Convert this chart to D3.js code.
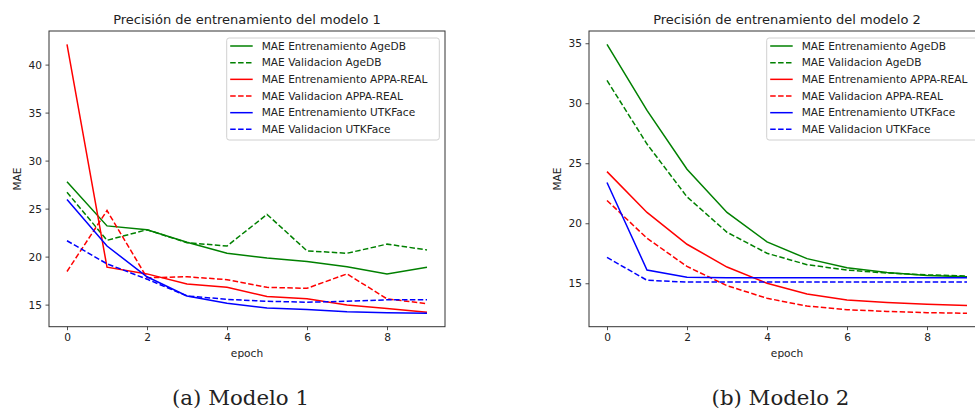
<!DOCTYPE html>
<html>
<head>
<meta charset="utf-8">
<script src="https://cdn.jsdelivr.net/npm/d3@7"></script>
<style>
  body { margin: 0; background: #fff; }
  svg { display: block; }
  text { font-family: "DejaVu Sans", sans-serif; fill: #222; }
</style>
</head>
<body>
<div id="chart"></div>
<script>
const width = 975
const height = 409

const epochs = [0, 1, 2, 3, 4, 5, 6, 7, 8, 9]

const seriesLabels = [
  "MAE Entrenamiento AgeDB",
  "MAE Validacion AgeDB",
  "MAE Entrenamiento APPA-REAL",
  "MAE Validacion APPA-REAL",
  "MAE Entrenamiento UTKFace",
  "MAE Validacion UTKFace"
]
const seriesColors = ["#008000", "#008000", "#ff0000", "#ff0000", "#0000ff", "#0000ff"]
const seriesDashed = [false, true, false, true, false, true]

// modelo 1
const m1TrainAgeDB = [27.8, 23.2, 22.8, 21.5, 20.35, 19.85, 19.5, 18.95, 18.2, 18.9]
const m1ValAgeDB   = [26.7, 21.7, 22.8, 21.45, 21.1, 24.4, 20.6, 20.35, 21.3, 20.7]
const m1TrainAppa  = [42.1, 18.9, 18.2, 17.15, 16.8, 15.85, 15.6, 14.95, 14.6, 14.2]
const m1ValAppa    = [18.45, 24.8, 17.8, 17.9, 17.6, 16.8, 16.7, 18.2, 15.6, 15.1]
const m1TrainUtk   = [25.95, 21.1, 17.9, 15.9, 15.15, 14.65, 14.5, 14.25, 14.15, 14.1]
const m1ValUtk     = [21.65, 19.25, 17.65, 15.9, 15.55, 15.35, 15.25, 15.35, 15.5, 15.5]

// modelo 2
const m2TrainAgeDB = [34.9, 29.4, 24.5, 20.9, 18.45, 17.05, 16.3, 15.9, 15.65, 15.55]
const m2ValAgeDB   = [31.9, 26.6, 22.2, 19.25, 17.5, 16.55, 16.1, 15.85, 15.7, 15.6]
const m2TrainAppa  = [24.3, 20.9, 18.25, 16.35, 15.0, 14.1, 13.6, 13.4, 13.25, 13.15]
const m2ValAppa    = [21.9, 18.75, 16.4, 14.8, 13.75, 13.1, 12.8, 12.65, 12.55, 12.5]
const m2TrainUtk   = [23.4, 16.1, 15.5, 15.45, 15.45, 15.45, 15.45, 15.45, 15.45, 15.45]
const m2ValUtk     = [17.15, 15.25, 15.1, 15.1, 15.1, 15.1, 15.1, 15.1, 15.1, 15.1]

const panels = [
  {
    title: "Precisión de entrenamiento del modelo 1",
    caption: "(a) Modelo 1",
    captionX: 240.5,
    left: 49, right: 445,
    series: [m1TrainAgeDB, m1ValAgeDB, m1TrainAppa, m1ValAppa, m1TrainUtk, m1ValUtk]
  },
  {
    title: "Precisión de entrenamiento del modelo 2",
    caption: "(b) Modelo 2",
    captionX: 780.5,
    left: 589, right: 985,
    series: [m2TrainAgeDB, m2ValAgeDB, m2TrainAppa, m2ValAppa, m2TrainUtk, m2ValUtk]
  }
]

const plotTop = 31
const plotBottom = 326.7
const smallFont = "10.6px"

const svg = d3.select("#chart")
  .append("svg")
  .attr("width", width)
  .attr("height", height)

svg.append("rect").attr("width", width).attr("height", height).attr("fill", "#fff")

function drawPanel(p) {
  const g = svg.append("g")

  // matplotlib style 5% margins
  const xScale = d3.scaleLinear().domain([-0.45, 9.45]).range([p.left, p.right])
  const all = p.series.flat()
  const [lo, hi] = d3.extent(all)
  const pad = (hi - lo) * 0.05
  const yScale = d3.scaleLinear().domain([lo - pad, hi + pad]).range([plotBottom, plotTop])

  const xAxis = d3.axisBottom(xScale).tickValues([0, 2, 4, 6, 8]).tickSize(3.5).tickPadding(3.5)
  const yTicks = d3.range(15, hi + pad, 5)
  const yAxis = d3.axisLeft(yScale).tickValues(yTicks).tickSize(3.5).tickPadding(3.5)

  const gx = g.append("g").attr("transform", `translate(0,${plotBottom})`).call(xAxis)
  const gy = g.append("g").attr("transform", `translate(${p.left},0)`).call(yAxis)
  ;[gx, gy].forEach(a => {
    a.select(".domain").remove()
    a.selectAll(".tick line").attr("stroke", "#222").attr("stroke-width", 0.8)
    a.selectAll(".tick text").style("font-family", "DejaVu Sans").style("font-size", smallFont).attr("fill", "#222")
  })

  const line = d3.line().x((d, i) => xScale(epochs[i])).y(d => yScale(d))

  p.series.forEach((s, i) => {
    g.append("path")
      .datum(s)
      .attr("d", line)
      .attr("fill", "none")
      .attr("stroke", seriesColors[i])
      .attr("stroke-width", 1.5)
      .attr("stroke-dasharray", seriesDashed[i] ? "5.5,2.4" : null)
  })

  // frame
  g.append("rect")
    .attr("x", p.left).attr("y", plotTop)
    .attr("width", p.right - p.left).attr("height", plotBottom - plotTop)
    .attr("fill", "none").attr("stroke", "#333").attr("stroke-width", 1)

  // title
  g.append("text")
    .attr("x", (p.left + p.right) / 2).attr("y", 24)
    .attr("text-anchor", "middle")
    .style("font-size", "13px")
    .text(p.title)

  g.append("text")
    .attr("x", (p.left + p.right) / 2).attr("y", 357)
    .attr("text-anchor", "middle")
    .style("font-size", smallFont)
    .text("epoch")

  g.append("text")
    .attr("transform", `translate(${p.left - 28.5},179) rotate(-90)`)
    .attr("text-anchor", "middle")
    .style("font-size", smallFont)
    .text("MAE")

  // legend
  const lx = p.right - 218.3
  const lg = g.append("g")
  lg.append("rect")
    .attr("x", lx).attr("y", 38)
    .attr("width", 212.6).attr("height", 102)
    .attr("rx", 2.5)
    .attr("fill", "#fff").attr("fill-opacity", 0.8)
    .attr("stroke", "#d0d0d0").attr("stroke-width", 1)

  seriesLabels.forEach((label, i) => {
    const ly = 46 + i * 16.67
    lg.append("line")
      .attr("x1", lx + 3.5).attr("x2", lx + 26)
      .attr("y1", ly).attr("y2", ly)
      .attr("stroke", seriesColors[i])
      .attr("stroke-width", 1.5)
      .attr("stroke-dasharray", seriesDashed[i] ? "5.5,2.4" : null)
    lg.append("text")
      .attr("x", lx + 35).attr("y", ly + 3.8)
      .style("font-size", smallFont)
      .text(label)
  })

  // subfigure caption
  svg.append("text")
    .attr("x", p.captionX).attr("y", 405)
    .attr("text-anchor", "middle")
    .style("font-family", "'DejaVu Serif', serif")
    .style("font-size", "21.3px")
    .attr("fill", "#111")
    .text(p.caption)
}

panels.forEach(drawPanel)
</script>
</body>
</html>
